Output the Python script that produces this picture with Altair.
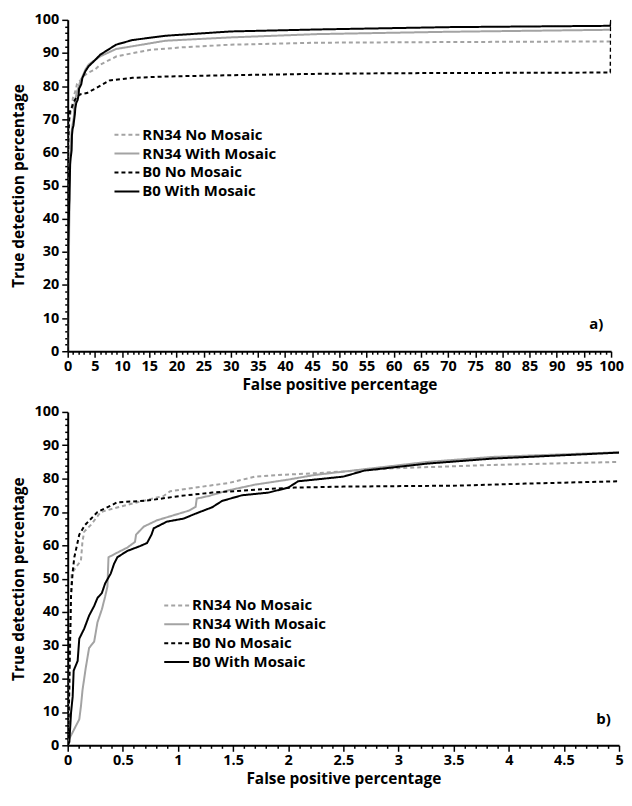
import altair as alt
import pandas as pd

series_names = ["RN34 No Mosaic", "RN34 With Mosaic", "B0 No Mosaic", "B0 With Mosaic"]
series_colors = ["#a3a3a3", "#a3a3a3", "#000000", "#000000"]
series_dashes = [[4, 3], [1, 0], [4, 3], [1, 0]]

# RN34 No Mosaic
rn34_no_fp = [0, 0.015, 0.024, 0.03, 0.035, 0.075, 0.12, 0.134, 0.15, 0.21, 0.3, 0.57, 0.87, 0.93,
              1.16, 1.46, 1.70, 1.91, 2.24, 2.96, 3.85, 5.0, 6, 9, 15, 21, 30, 46, 70, 99.9, 100]
rn34_no_tp = [0, 15, 32, 45, 51.5, 53.4, 55.4, 61.2, 64.1, 66.1, 70, 72.4, 74.8, 76.2,
              77.3, 78.7, 80.6, 81.1, 81.6, 83.1, 84.1, 85.0, 86.5, 89, 90.9, 91.7, 92.5, 93.1, 93.3, 93.5, 100]

# RN34 With Mosaic
rn34_mo_fp = [0, 0.015, 0.06, 0.105, 0.12, 0.134, 0.164, 0.194, 0.24, 0.27, 0.31, 0.34, 0.36, 0.37,
              0.45, 0.54, 0.61, 0.62, 0.69, 0.81, 0.96, 1.1, 1.16, 1.17, 1.28, 1.46, 1.70, 2.0, 2.24,
              3.26, 3.85, 5.0, 6, 8.9, 18, 30, 46, 70, 99.9, 100]
rn34_mo_tp = [0, 2, 4.9, 7.8, 11.7, 16.5, 23.3, 29.2, 31.1, 36.9, 40.8, 44.7, 47.6, 56.4,
              57.8, 59.3, 61.0, 63.2, 65.6, 67.5, 69.0, 70.4, 71.5, 74.0, 74.8, 76.5, 78.2, 79.7, 81.1,
              85.0, 86.5, 87.9, 89.0, 91.2, 93.7, 94.7, 95.7, 96.4, 97.0, 100]

# B0 No Mosaic
b0_no_fp = [0, 0.01, 0.02, 0.03, 0.045, 0.06, 0.105, 0.155, 0.27, 0.39, 0.45, 0.72, 1.02, 1.31,
            1.76, 2.06, 2.5, 3.55, 4.15, 5.0, 7.7, 11.9, 18, 30, 46, 60, 99.9, 100]
b0_no_tp = [0, 10, 30, 44.7, 52.0, 56.4, 63.2, 66.0, 70.0, 71.9, 72.9, 73.4, 74.8, 75.8,
            76.8, 77.3, 77.6, 77.9, 78.5, 79.2, 81.7, 82.5, 82.9, 83.3, 83.7, 83.9, 84.1, 100]

# B0 With Mosaic
b0_mo_fp = [0, 0.015, 0.03, 0.045, 0.054, 0.09, 0.105, 0.15, 0.194, 0.24, 0.27, 0.31, 0.34, 0.39,
            0.42, 0.45, 0.54, 0.66, 0.72, 0.76, 0.78, 0.90, 1.05, 1.16, 1.31, 1.40, 1.58, 1.82,
            2.0, 2.09, 2.24, 2.5, 2.69, 3.26, 3.85, 5.0, 6, 8.9, 11.9, 18, 30, 46, 70, 99.9, 100]
b0_mo_tp = [0, 1, 9.7, 14.6, 22.4, 25.3, 32.0, 35.0, 38.9, 41.8, 44.2, 45.7, 48.6, 51.5,
            54.4, 56.4, 58.3, 59.8, 60.7, 63.2, 65.1, 67.1, 68.0, 69.5, 71.4, 73.3, 75.0, 75.8,
            77.3, 79.2, 79.7, 80.6, 82.4, 84.5, 86.0, 87.8, 89.5, 92.5, 93.9, 95.2, 96.5, 97.1, 97.8, 98.2, 100]

panel_labels = ["a)", "b)"]
label_fp = [97.3, 4.86]
label_tp = [8.1, 7.9]

rows = []
for name, fps, tps in [
    (series_names[0], rn34_no_fp, rn34_no_tp),
    (series_names[1], rn34_mo_fp, rn34_mo_tp),
    (series_names[2], b0_no_fp, b0_no_tp),
    (series_names[3], b0_mo_fp, b0_mo_tp),
]:
    for i, (f, t) in enumerate(zip(fps, tps)):
        rows.append({"series": name, "fp": f, "tp": t, "idx": i})
df = pd.DataFrame(rows)

FONT = "Open Sans"

y_axis = alt.Axis(
    title="True detection percentage",
    values=list(range(0, 101, 2)),
    labelExpr="datum.value % 10 === 0 ? datum.label : ''",
    tickSize={"condition": {"test": "datum.value % 10 === 0", "value": 6}, "value": 3},
    labelOverlap=False,
    labelPadding=3,
    titlePadding=8,
)


def panel(xmax, xvalues, xlabelexpr, xmajor_test, width, height, lx, ly, k):
    x_axis = alt.Axis(
        title="False positive percentage",
        values=xvalues,
        labelExpr=xlabelexpr,
        tickSize={"condition": {"test": xmajor_test, "value": 6}, "value": 3},
        labelOverlap=False,
        labelFlush=False,
        labelPadding=2,
        titlePadding=5,
    )
    xs = alt.Scale(domain=[0, xmax], nice=False)
    ys = alt.Scale(domain=[0, 100], nice=False)
    leg = alt.Legend(
        title=None, orient="none", legendX=lx, legendY=ly,
        symbolType="stroke", symbolStrokeWidth=2, symbolSize=625,
        labelFont=FONT, labelFontSize=15, labelFontWeight="bold", labelColor="black",
        labelOffset=2, rowPadding=0, clipHeight=18.8,
    )
    lines = alt.Chart(df).mark_line(strokeWidth=2, clip=True).encode(
        x=alt.X("fp:Q", scale=xs, axis=x_axis),
        y=alt.Y("tp:Q", scale=ys, axis=y_axis),
        color=alt.Color("series:N", scale=alt.Scale(domain=series_names, range=series_colors), legend=leg),
        strokeDash=alt.StrokeDash("series:N", scale=alt.Scale(domain=series_names, range=series_dashes), legend=leg),
        order="idx:Q",
    )
    ann = pd.DataFrame({"fp": [label_fp[k]], "tp": [label_tp[k]], "label": [panel_labels[k]]})
    text = alt.Chart(ann).mark_text(font=FONT, fontSize=15, fontWeight="bold", color="black").encode(
        x=alt.X("fp:Q", scale=xs, axis=x_axis),
        y=alt.Y("tp:Q", scale=ys, axis=y_axis),
        text="label:N",
    )
    return alt.layer(lines, text).properties(width=width, height=height)


top = panel(
    100, list(range(0, 101)),
    "datum.value % 5 === 0 ? datum.label : ''",
    "datum.value % 5 === 0",
    546, 333, 46, 106, 0,
)
bottom = panel(
    5, [round(i * 0.1, 1) for i in range(51)],
    "abs(round(datum.value * 10)) % 5 === 0 ? '' + datum.value : ''",
    "abs(round(datum.value * 10)) % 5 === 0",
    554, 335, 96, 185, 1,
)

chart = alt.vconcat(top, bottom, spacing=11).resolve_scale(
    color="independent", strokeDash="independent", x="independent"
).resolve_legend(color="independent", strokeDash="independent").properties(
    padding={"left": 3, "top": 2, "right": 0, "bottom": 0}
).configure_axis(
    labelFont=FONT, labelFontSize=14.5, labelFontWeight="bold", labelColor="black",
    titleFont=FONT, titleFontSize=15.5, titleFontWeight="bold", titleColor="black",
    domainColor="black", domainWidth=2, tickColor="black", tickWidth=1.5, grid=False,
).configure_view(stroke=None)

chart.save("out.html", embed_options={"renderer": "svg", "actions": False})
